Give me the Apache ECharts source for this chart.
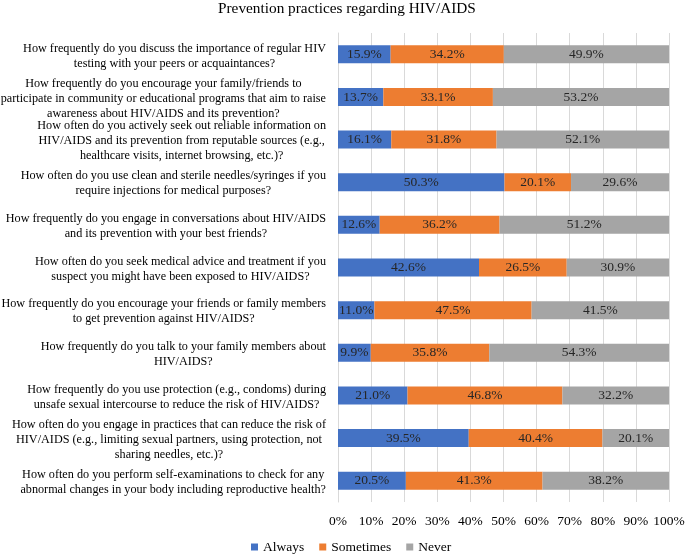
<!DOCTYPE html>
<html>
<head>
<meta charset="utf-8">
<script src="https://cdn.jsdelivr.net/npm/echarts@6/dist/echarts.min.js"></script>
<style>
html,body{margin:0;padding:0;background:#fff;}
#c{width:685px;height:556px;}
</style>
</head>
<body>
<div id="c"></div>
<script>
const categories = [
  "How frequently do you discuss the importance of regular HIV\ntesting with your peers or acquaintances?",
  "How frequently do you encourage your family/friends to\nparticipate in community or educational programs that aim to raise\nawareness about HIV/AIDS and its prevention?",
  "How often do you actively seek out reliable information on\nHIV/AIDS and its prevention from reputable sources (e.g.,\nhealthcare visits, internet browsing, etc.)?",
  "How often do you use clean and sterile needles/syringes if you\nrequire injections for medical purposes?",
  "How frequently do you engage in conversations about HIV/AIDS\nand its prevention with your best friends?",
  "How often do you seek medical advice and treatment if you\nsuspect you might have been exposed to HIV/AIDS?",
  "How frequently do you encourage your friends or family members\nto get prevention against HIV/AIDS?",
  "How frequently do you talk to your family members about\nHIV/AIDS?",
  "How frequently do you use protection (e.g., condoms) during\nunsafe sexual intercourse to reduce the risk of HIV/AIDS?",
  "How often do you engage in practices that can reduce the risk of\nHIV/AIDS (e.g., limiting sexual partners, using protection, not\nsharing needles, etc.)?",
  "How often do you perform self-examinations to check for any\nabnormal changes in your body including reproductive health?"
];
const always    = [15.9, 13.7, 16.1, 50.3, 12.6, 42.6, 11.0, 9.9, 21.0, 39.5, 20.5];
const sometimes = [34.2, 33.1, 31.8, 20.1, 36.2, 26.5, 47.5, 35.8, 46.8, 40.4, 41.3];
const never     = [49.9, 53.2, 52.1, 29.6, 51.2, 30.9, 41.5, 54.3, 32.2, 20.1, 38.2];
const seriesNames = ["Always", "Sometimes", "Never"];
const xTicks = [0, 10, 20, 30, 40, 50, 60, 70, 80, 90, 100];

const FONT = "'Liberation Serif', 'Times New Roman', serif";
const colors = ['#4472C4', '#ED7D31', '#A5A5A5'];

const chart = echarts.init(document.getElementById('c'));
const mk = (name, data, i) => ({
  name: name,
  type: 'bar',
  stack: 'total',
  data: data,
  barWidth: 18,
  itemStyle: { color: colors[i] },
  label: {
    show: true,
    position: 'inside',
    formatter: p => p.value.toFixed(1) + '%',
    color: '#262626',
    fontFamily: FONT,
    fontSize: 13.5
  },
  emphasis: { disabled: true }
});

chart.setOption({
  animation: false,
  backgroundColor: '#fff',
  title: {
    text: 'Prevention practices regarding HIV/AIDS',
    left: 213,
    top: -4,
    textStyle: { fontFamily: FONT, fontSize: 15.3, fontWeight: 'normal', color: '#000' }
  },
  legend: {
    data: seriesNames,
    top: 535,
    left: 246,
    itemWidth: 7,
    itemHeight: 7,
    itemGap: 15,
    icon: 'rect',
    textStyle: { fontFamily: FONT, fontSize: 13.5, color: '#000' }
  },
  grid: { left: 338, right: 16, top: 33, bottom: 54, containLabel: false, outerBoundsMode: 'none' },
  xAxis: {
    type: 'value',
    min: xTicks[0],
    max: xTicks[xTicks.length - 1],
    interval: 10,
    axisLine: { show: false },
    axisTick: { show: false },
    splitLine: { show: true, lineStyle: { color: '#d9d9d9', width: 1 } },
    axisLabel: {
      formatter: '{value}%',
      fontFamily: FONT,
      fontSize: 13.5,
      color: '#000',
      margin: 12
    }
  },
  yAxis: {
    type: 'category',
    data: categories,
    inverse: true,
    axisLine: { show: true, lineStyle: { color: '#d9d9d9' } },
    axisTick: { show: false },
    axisLabel: {
      margin: 12,
      align: 'right',
      padding: [3, 0, 0, 0],
      formatter: v => '{c|' + v + '}',
      rich: {
        c: { align: 'center', fontFamily: FONT, fontSize: 12.2, lineHeight: 15, color: '#000' }
      }
    }
  },
  series: [mk(seriesNames[0], always, 0), mk(seriesNames[1], sometimes, 1), mk(seriesNames[2], never, 2)]
});
</script>
</body>
</html>
